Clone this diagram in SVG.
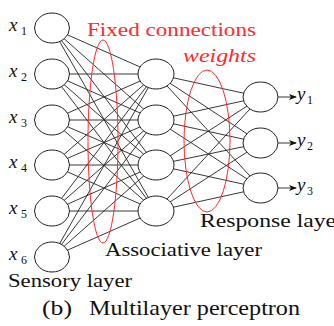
<svg xmlns="http://www.w3.org/2000/svg" width="334" height="326" viewBox="0 0 334 326">
<style>
.edge{stroke:#222;stroke-width:0.9;fill:none}
.node{fill:#fff;stroke:#222;stroke-width:1}
.red{fill:none;stroke:#ff2a2a;stroke-width:1}
.lbl{fill:#111}
.var{font-style:italic;font-size:19px;fill:#111}
.sub{font-size:12px;fill:#111}
.rt{fill:#ff2a2a}
</style>
<defs>
<marker id="ah" markerWidth="8" markerHeight="6" refX="7" refY="3" orient="auto" markerUnits="userSpaceOnUse">
<path d="M0,0 L8,3 L0,6 L2,3 Z" fill="#111"/>
</marker>
</defs>
<rect width="334" height="326" fill="#fff"/>
<g id="connectors">
<g class="edge">
<line x1="52" y1="28" x2="156" y2="74"/><line x1="52" y1="28" x2="156" y2="120"/><line x1="52" y1="28" x2="156" y2="165"/><line x1="52" y1="28" x2="156" y2="211"/>
<line x1="52" y1="74" x2="156" y2="74"/><line x1="52" y1="74" x2="156" y2="120"/><line x1="52" y1="74" x2="156" y2="165"/><line x1="52" y1="74" x2="156" y2="211"/>
<line x1="52" y1="120" x2="156" y2="74"/><line x1="52" y1="120" x2="156" y2="120"/><line x1="52" y1="120" x2="156" y2="165"/><line x1="52" y1="120" x2="156" y2="211"/>
<line x1="52" y1="165" x2="156" y2="74"/><line x1="52" y1="165" x2="156" y2="120"/><line x1="52" y1="165" x2="156" y2="165"/><line x1="52" y1="165" x2="156" y2="211"/>
<line x1="52" y1="211" x2="156" y2="74"/><line x1="52" y1="211" x2="156" y2="120"/><line x1="52" y1="211" x2="156" y2="165"/><line x1="52" y1="211" x2="156" y2="211"/>
<line x1="52" y1="257" x2="156" y2="74"/><line x1="52" y1="257" x2="156" y2="120"/><line x1="52" y1="257" x2="156" y2="165"/><line x1="52" y1="257" x2="156" y2="211"/>
<line x1="156" y1="74" x2="261" y2="97"/><line x1="156" y1="74" x2="261" y2="143"/><line x1="156" y1="74" x2="261" y2="188"/>
<line x1="156" y1="120" x2="261" y2="97"/><line x1="156" y1="120" x2="261" y2="143"/><line x1="156" y1="120" x2="261" y2="188"/>
<line x1="156" y1="165" x2="261" y2="97"/><line x1="156" y1="165" x2="261" y2="143"/><line x1="156" y1="165" x2="261" y2="188"/>
<line x1="156" y1="211" x2="261" y2="97"/><line x1="156" y1="211" x2="261" y2="143"/><line x1="156" y1="211" x2="261" y2="188"/>
<line x1="278" y1="97" x2="296" y2="97" marker-end="url(#ah)"/>
<line x1="278" y1="143" x2="296" y2="143" marker-end="url(#ah)"/>
<line x1="278" y1="188" x2="296" y2="188" marker-end="url(#ah)"/>
</g>
</g>
<g font-family="Liberation Serif, Times New Roman, DejaVu Serif, Noto Serif, serif">
<g id="sensory">
<g id="s1"><ellipse class="node" cx="52" cy="28" rx="17.5" ry="15"/><text class="var" x="9" y="31">x</text><text class="sub" x="21" y="35">1</text></g>
<g id="s2"><ellipse class="node" cx="52" cy="74" rx="17.5" ry="15"/><text class="var" x="9" y="77">x</text><text class="sub" x="21" y="81">2</text></g>
<g id="s3"><ellipse class="node" cx="52" cy="120" rx="17.5" ry="15"/><text class="var" x="9" y="123">x</text><text class="sub" x="21" y="127">3</text></g>
<g id="s4"><ellipse class="node" cx="52" cy="165" rx="17.5" ry="15"/><text class="var" x="9" y="168">x</text><text class="sub" x="21" y="172">4</text></g>
<g id="s5"><ellipse class="node" cx="52" cy="211" rx="17.5" ry="15"/><text class="var" x="9" y="214">x</text><text class="sub" x="21" y="218">5</text></g>
<g id="s6"><ellipse class="node" cx="52" cy="257" rx="17.5" ry="15"/><text class="var" x="9" y="260">x</text><text class="sub" x="21" y="264">6</text></g>
</g>
<g id="associative">
<g id="a1"><ellipse class="node" cx="156" cy="74" rx="18" ry="15"/></g>
<g id="a2"><ellipse class="node" cx="156" cy="120" rx="18" ry="15"/></g>
<g id="a3"><ellipse class="node" cx="156" cy="165" rx="18" ry="15"/></g>
<g id="a4"><ellipse class="node" cx="156" cy="211" rx="18" ry="15"/></g>
</g>
<g id="response">
<g id="r1"><ellipse class="node" cx="260.5" cy="97" rx="17.5" ry="15"/><text class="var" x="297" y="100">y</text><text class="sub" x="307" y="104">1</text></g>
<g id="r2"><ellipse class="node" cx="260.5" cy="143" rx="17.5" ry="15"/><text class="var" x="297" y="146">y</text><text class="sub" x="307" y="150">2</text></g>
<g id="r3"><ellipse class="node" cx="260.5" cy="188" rx="17.5" ry="15"/><text class="var" x="297" y="191">y</text><text class="sub" x="307" y="195">3</text></g>
</g>
<g id="annotations">
<ellipse class="red" cx="103" cy="141.5" rx="15" ry="101.5"/>
<ellipse class="red" cx="207" cy="141" rx="23" ry="71"/>
<text class="rt" x="87" y="36" font-size="18" textLength="169" lengthAdjust="spacingAndGlyphs">Fixed connections</text>
<text class="rt" x="183" y="62" font-size="18" font-style="italic" textLength="73" lengthAdjust="spacingAndGlyphs">weights</text>
<text class="lbl" x="200" y="227" font-size="18" textLength="144" lengthAdjust="spacingAndGlyphs">Response layer</text>
<text class="lbl" x="105" y="256" font-size="18" textLength="157" lengthAdjust="spacingAndGlyphs">Associative layer</text>
<text class="lbl" x="8" y="287" font-size="18" textLength="124" lengthAdjust="spacingAndGlyphs">Sensory layer</text>
<text class="lbl" x="42" y="315" font-size="21" textLength="30" lengthAdjust="spacingAndGlyphs">(b)</text>
<text class="lbl" x="89" y="315" font-size="21" textLength="211" lengthAdjust="spacingAndGlyphs">Multilayer perceptron</text>
</g>
</g>
</svg>
